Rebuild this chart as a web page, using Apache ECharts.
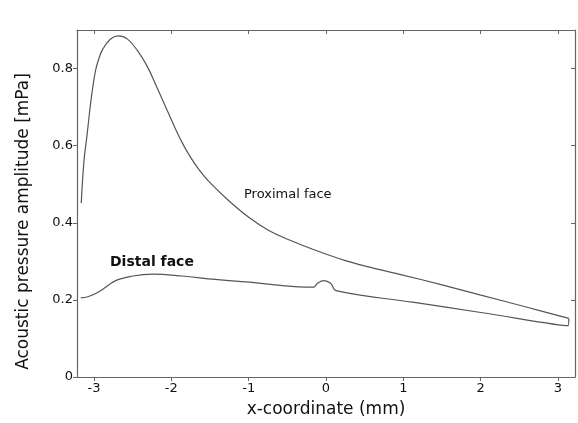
<!DOCTYPE html>
<html>
<head>
<meta charset="utf-8">
<script src="https://cdn.jsdelivr.net/npm/echarts@6/dist/echarts.min.js"></script>
<style>
  html, body { margin: 0; padding: 0; background: #fff; }
  #chart { width: 578px; height: 423px; }
</style>
</head>
<body>
<div id="chart"></div>
<script>
// proximal face curve
var proximalX = [-3.165, -3.13, -3.09, -3.05, -3.02, -2.98, -2.94, -2.89, -2.79, -2.69, -2.57, -2.44, -2.31, -2.18, -2.05, -1.93, -1.85, -1.77, -1.64, -1.51, -1.25, -0.99, -0.74, -0.48, -0.18, 0.25, 0.68, 0.98, 1.5, 1.99, 2.6, 3.14];
var proximalY = [0.451, 0.56, 0.628, 0.70, 0.746, 0.795, 0.824, 0.849, 0.876, 0.885, 0.877, 0.847, 0.805, 0.748, 0.690, 0.636, 0.604, 0.576, 0.537, 0.506, 0.456, 0.413, 0.380, 0.356, 0.332, 0.302, 0.279, 0.265, 0.239, 0.213, 0.181, 0.152];
// distal face curve (joins proximal at right end)
var distalX = [-3.17, -3.08, -2.93, -2.72, -2.50, -2.24, -1.86, -1.43, -0.99, -0.56, -0.26, -0.16, -0.11, -0.03, 0.06, 0.13, 1.12, 1.98, 3.13, 3.14];
var distalY = [0.205, 0.208, 0.222, 0.25, 0.262, 0.267, 0.262, 0.253, 0.246, 0.237, 0.233, 0.233, 0.243, 0.250, 0.243, 0.224, 0.194, 0.168, 0.133, 0.152];

var xTicks = [-3, -2, -1, 0, 1, 2, 3];
var yTicks = [0, 0.2, 0.4, 0.6, 0.8];

function pairs(xs, ys) {
    var out = [];
    for (var i = 0; i < xs.length; i++) out.push([xs[i], ys[i]]);
    return out;
}

var font = 'DejaVu Sans';
var axisColor = '#666';
var lineColor = '#555';

var myChart = echarts.init(document.getElementById('chart'));
myChart.setOption({
    animation: false,
    backgroundColor: '#fff',
    textStyle: { fontFamily: font },
    grid: { left: 77, right: 3, top: 30, bottom: 37 },
    xAxis: [{
        type: 'value',
        min: -3.22,
        max: 3.22,
        name: 'x-coordinate (mm)',
        nameLocation: 'middle',
        nameGap: 24,
        nameTextStyle: { fontSize: 17, color: '#111', fontFamily: font },
        splitLine: { show: false },
        axisLine: { onZero: false, lineStyle: { color: axisColor, width: 1.2 } },
        axisTick: { inside: false, length: 4, customValues: xTicks, lineStyle: { color: axisColor } },
        axisLabel: { customValues: xTicks, color: '#111', fontSize: 13, margin: 5, fontFamily: font }
    }, {
        type: 'value',
        position: 'top',
        min: -3.22,
        max: 3.22,
        splitLine: { show: false },
        axisLine: { onZero: false, lineStyle: { color: axisColor, width: 1.2 } },
        axisTick: { inside: true, length: 4, customValues: xTicks, lineStyle: { color: axisColor } },
        axisLabel: { show: false }
    }],
    yAxis: [{
        type: 'value',
        min: 0,
        max: 0.9,
        name: 'Acoustic pressure amplitude [mPa]',
        nameLocation: 'middle',
        nameGap: 45,
        nameTextStyle: { fontSize: 17, color: '#111', fontFamily: font, padding: [0, 36, 0, 0] },
        splitLine: { show: false },
        axisLine: { show: true, onZero: false, lineStyle: { color: axisColor, width: 1.2 } },
        axisTick: { show: true, inside: false, length: 4, customValues: yTicks, lineStyle: { color: axisColor } },
        axisLabel: {
            customValues: yTicks, color: '#111', fontSize: 13, margin: 4, fontFamily: font,
            formatter: function (v) { return v === 0 ? '0' : v.toFixed(1); }
        }
    }, {
        type: 'value',
        position: 'right',
        min: 0,
        max: 0.9,
        splitLine: { show: false },
        axisLine: { show: true, onZero: false, lineStyle: { color: axisColor, width: 1.2 } },
        axisTick: { show: true, inside: true, length: 4, customValues: yTicks, lineStyle: { color: axisColor } },
        axisLabel: { show: false }
    }],
    series: [{
        name: 'Proximal face',
        type: 'line',
        showSymbol: false,
        smooth: 0.4,
        lineStyle: { color: lineColor, width: 1.2 },
        data: pairs(proximalX, proximalY)
    }, {
        name: 'Distal face',
        type: 'line',
        showSymbol: false,
        smooth: 0.4,
        lineStyle: { color: lineColor, width: 1.2 },
        data: pairs(distalX, distalY)
    }],
    graphic: [{
        type: 'text',
        left: 244,
        top: 188,
        style: { text: 'Proximal face', font: '13px "DejaVu Sans"', fill: '#111' }
    }, {
        type: 'text',
        left: 110,
        top: 255,
        style: { text: 'Distal face', font: 'bold 14px "DejaVu Sans"', fill: '#111' }
    }]
});
</script>
</body>
</html>
